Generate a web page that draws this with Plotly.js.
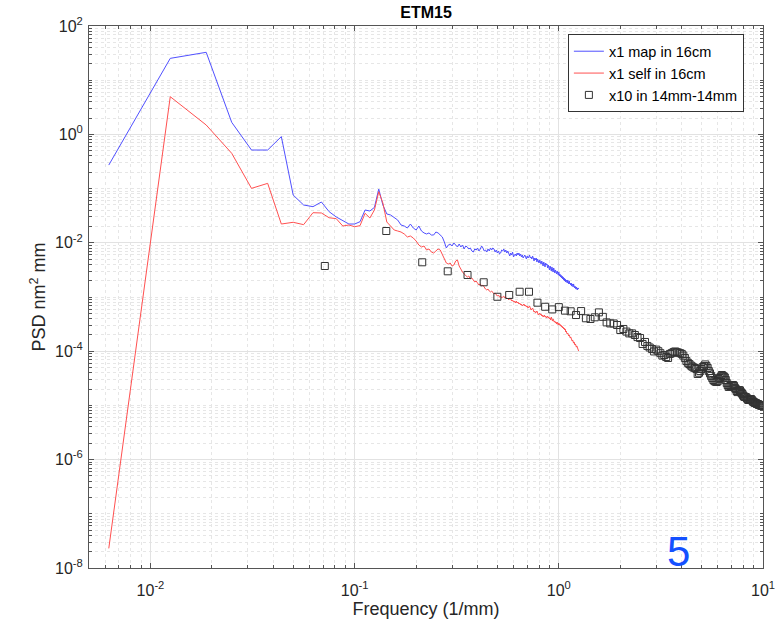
<!DOCTYPE html>
<html>
<head>
<meta charset="utf-8">
<script src="https://cdn.plot.ly/plotly-3.0.1.min.js"></script>
<style>
html,body{margin:0;padding:0;background:#fff;}
#chart{width:784px;height:624px;}
</style>
</head>
<body>
<div id="chart"></div>
<script>
// Sample spacing of the two 16cm spectra (1/160 mm) and of the 14mm spectrum (1/14 mm)
const dfMap = 1 / 160;
const dfSmall = 1 / 14;

// "x1 map in 16cm" PSD values (nm^2 mm), one per frequency bin k*dfMap, k=1..200
const mapPSD = [
0.272, 25.3, 32.7, 1.67, 0.515, 0.515, 0.91, 0.076, 0.0498, 0.0464,
0.0566, 0.0375, 0.030, 0.0252, 0.0222, 0.0222, 0.0245, 0.0403, 0.0386, 0.045,
0.098, 0.0498, 0.0340, 0.0326, 0.0287, 0.0263, 0.0213, 0.0204, 0.01875, 0.0222,
0.01875, 0.0172, 0.0204, 0.0165, 0.0152, 0.01454, 0.0152, 0.01393, 0.01393, 0.0158,
0.0152, 0.01393, 0.0128, 0.01035, 0.00802, 0.0091, 0.0095, 0.00873, 0.00992, 0.0091,
0.00837, 0.0095, 0.00837, 0.0091, 0.00769, 0.00873, 0.00837, 0.00769, 0.00802, 0.00706,
0.00676, 0.00769, 0.00736, 0.00802, 0.00706, 0.00769, 0.00873, 0.00802, 0.00706, 0.00736,
0.00676, 0.00769, 0.00706, 0.00802, 0.00736, 0.00802, 0.00769, 0.00676, 0.00736, 0.00648,
0.00706, 0.00621, 0.00648, 0.00736, 0.00706, 0.00769, 0.00676, 0.00736, 0.00648, 0.00706,
0.00621, 0.00571, 0.00648, 0.00595, 0.00676, 0.00547, 0.00595, 0.00621, 0.00571, 0.00648,
0.00595, 0.00648, 0.00571, 0.00621, 0.00547, 0.00595, 0.00524, 0.00571, 0.00595, 0.00547,
0.00502, 0.00571, 0.00524, 0.00547, 0.00595, 0.00524, 0.00547, 0.00502, 0.00571, 0.00524,
0.00461, 0.00524, 0.00482, 0.00524, 0.00442, 0.00502, 0.00461, 0.00424, 0.00482, 0.00442,
0.00406, 0.00461, 0.00424, 0.00373, 0.00442, 0.00406, 0.00358, 0.00424, 0.00389, 0.00406,
0.00343, 0.00389, 0.00358, 0.00315, 0.00373, 0.00343, 0.00302, 0.00358, 0.00329, 0.00289,
0.00343, 0.00302, 0.00277, 0.00315, 0.00289, 0.00266, 0.00302, 0.00277, 0.00254, 0.00289,
0.00244, 0.00266, 0.00234, 0.00254, 0.00224, 0.00244, 0.00215, 0.00234, 0.00206, 0.00224,
0.00197, 0.00215, 0.00189, 0.00206, 0.00197, 0.00181, 0.00206, 0.00189, 0.00174, 0.00197,
0.00174, 0.00181, 0.00166, 0.00181, 0.00159, 0.00174, 0.00166, 0.00153, 0.00174, 0.00159,
0.00147, 0.00159, 0.00153, 0.00140, 0.00153, 0.00147, 0.00135, 0.00147, 0.00140, 0.00147
];

// "x1 self in 16cm" PSD values, same bins
const selfPSD = [
2.3e-8, 4.96, 1.49, 0.448, 0.101, 0.125, 0.0222, 0.0239, 0.0216, 0.0359,
0.0355, 0.029, 0.0279, 0.0204, 0.0213, 0.0198, 0.0207, 0.035, 0.0287, 0.0403,
0.0877, 0.0542, 0.0242, 0.0204, 0.0172, 0.0165, 0.0158, 0.01454, 0.0128, 0.01335,
0.01226, 0.01079, 0.0091, 0.00837, 0.00873, 0.00736, 0.00769, 0.00676, 0.00648, 0.00706,
0.00769, 0.00736, 0.00595, 0.00502, 0.00424, 0.00406, 0.00424, 0.00373, 0.00389, 0.00461,
0.00482, 0.00373, 0.00315, 0.00289, 0.00266, 0.00254, 0.00234, 0.00244, 0.00215, 0.00224,
0.00206, 0.00189, 0.00197, 0.00181, 0.00166, 0.00174, 0.00159, 0.00166, 0.00147, 0.00140,
0.00135, 0.00140, 0.00129, 0.00124, 0.00129, 0.00118, 0.00114, 0.00118, 0.00109, 0.00104,
0.00109, 0.000999, 0.00104, 0.000958, 0.000999, 0.00104, 0.000958, 0.000999, 0.000918, 0.000958,
0.00088, 0.000958, 0.000918, 0.000843, 0.00088, 0.000808, 0.000843, 0.000774, 0.000843, 0.000774,
0.000808, 0.000742, 0.000774, 0.000711, 0.000742, 0.000682, 0.000711, 0.000742, 0.000682, 0.000711,
0.000653, 0.000682, 0.000626, 0.000653, 0.000682, 0.000626, 0.000575, 0.0006, 0.000626, 0.000575,
0.000528, 0.000551, 0.000506, 0.000528, 0.000551, 0.000506, 0.000465, 0.000485, 0.000506, 0.000465,
0.000485, 0.000446, 0.000465, 0.000427, 0.000446, 0.000465, 0.000427, 0.000446, 0.000409, 0.000427,
0.000446, 0.000409, 0.000427, 0.000392, 0.000409, 0.000376, 0.000427, 0.000392, 0.00036, 0.000392,
0.000376, 0.000345, 0.00036, 0.000331, 0.000345, 0.000317, 0.000345, 0.000331, 0.000304, 0.000331,
0.000304, 0.000317, 0.000291, 0.000304, 0.000279, 0.000291, 0.000268, 0.000279, 0.000257, 0.000268,
0.000246, 0.000257, 0.000226, 0.000236, 0.000216, 0.000207, 0.000216, 0.000199, 0.000191, 0.000199,
0.000183, 0.000175, 0.000183, 0.000168, 0.000161, 0.000154, 0.000161, 0.000148, 0.000141, 0.000148,
0.000136, 0.00013, 0.000136, 0.000125, 0.000119, 0.000125, 0.000114, 0.00011, 0.000105, 0.000101
];

// "x10 in 14mm-14mm" PSD values, one per bin k*dfSmall, k=1..140
const smallPSD = [
3.73e-3, 1.65e-2, 4.37e-3, 2.98e-3, 2.55e-3, 1.87e-3, 1.01e-3, 1.09e-3, 1.25e-3, 1.25e-3,
7.85e-4, 6.6e-4, 5.9e-4, 6.5e-4, 5.6e-4, 5.45e-4, 4.65e-4, 5.5e-4, 4.05e-4, 3.93e-4,
4.22e-4, 5.2e-4, 4.3e-4, 3.4e-4, 3.25e-4, 3.25e-4, 3.04e-4, 2.46e-4, 2.57e-4, 2.3e-4,
2.13e-4, 2.13e-4, 1.99e-4, 1.82e-4, 1.75e-4, 1.36e-4, 1.48e-4, 1.25e-4, 1.17e-4, 1.10e-4,
9.9e-5, 1.07e-4, 1.0e-4, 9.2e-5, 8.3e-5, 8.5e-5, 7.8e-5, 7.5e-5, 8.9e-5, 9.2e-5,
9.6e-5, 9.9e-5, 9.6e-5, 9.4e-5, 9.2e-5, 8.9e-5, 8.3e-5, 7.5e-5, 6.6e-5, 6.1e-5,
5.8e-5, 5.45e-5, 5.2e-5, 5.0e-5, 4.9e-5, 4.7e-5, 3.8e-5, 4.0e-5, 4.3e-5, 4.7e-5,
5.1e-5, 5.3e-5, 5.7e-5, 5.3e-5, 4.9e-5, 4.3e-5, 3.9e-5, 3.5e-5, 3.2e-5, 2.94e-5,
2.8e-5, 2.75e-5, 2.7e-5, 2.8e-5, 3.05e-5, 3.2e-5, 3.4e-5, 3.64e-5, 3.5e-5, 3.4e-5,
3.27e-5, 2.94e-5, 2.6e-5, 2.38e-5, 2.2e-5, 2.2e-5, 2.28e-5, 2.28e-5, 2.38e-5, 2.38e-5,
2.28e-5, 2.1e-5, 2.0e-5, 1.84e-5, 1.76e-5, 1.84e-5, 1.92e-5, 1.88e-5, 1.76e-5, 1.69e-5,
1.62e-5, 1.52e-5, 1.46e-5, 1.43e-5, 1.43e-5, 1.40e-5, 1.34e-5, 1.28e-5, 1.26e-5, 1.28e-5,
1.28e-5, 1.31e-5, 1.28e-5, 1.23e-5, 1.18e-5, 1.15e-5, 1.13e-5, 1.11e-5, 1.11e-5, 1.08e-5,
1.06e-5, 1.06e-5, 1.04e-5, 1.02e-5, 1.02e-5, 1.0e-5, 1.0e-5, 9.8e-6, 9.8e-6, 9.8e-6
];

const seriesNames = ['x1 map in 16cm', 'x1 self in 16cm', 'x10 in 14mm-14mm'];
const xTickVals = [0.01, 0.1, 1, 10];
const xTickText = ['10<sup>-2</sup>', '10<sup>-1</sup>', '10<sup>0</sup>', '10<sup>1</sup>'];
const yTickVals = [1e-8, 1e-6, 1e-4, 1e-2, 1, 100];
const yTickText = ['10<sup>-8</sup>', '10<sup>-6</sup>', '10<sup>-4</sup>', '10<sup>-2</sup>', '10<sup>0</sup>', '10<sup>2</sup>'];

// frequency grids from the sample spacing
const fMap = mapPSD.map((_, i) => (i + 1) * dfMap);
const fSmall = smallPSD.map((_, i) => (i + 1) * dfSmall);

// minor grid positions (log axes)
function minorLog(lo, hi, skip) {
  const out = [];
  for (let e = lo; e <= hi; e++) {
    for (let m = 1; m <= 9; m++) {
      const v = m * Math.pow(10, e);
      if (m === 1 && skip.includes(e)) continue;
      out.push(v);
    }
  }
  return out;
}
const xMinor = minorLog(-3, 0, [-2, -1, 0]).filter(v => v > 0.005);
const yMinor = minorLog(-8, 1, [-8, -6, -4, -2, 0]);

const FONT = '"Liberation Sans", Arial, Helvetica, sans-serif';

const traces = [
  { x: fMap, y: mapPSD, name: seriesNames[0], type: 'scatter', mode: 'lines',
    line: { color: 'rgb(80,80,255)', width: 1 } },
  { x: fMap, y: selfPSD, name: seriesNames[1], type: 'scatter', mode: 'lines',
    line: { color: 'rgb(255,80,80)', width: 1 } },
  { x: fSmall, y: smallPSD, name: seriesNames[2], type: 'scatter', mode: 'markers',
    marker: { symbol: 'square-open', size: 7, color: '#333', line: { width: 1, color: '#333' } } }
];

const axisCommon = {
  type: 'log',
  showline: true, linecolor: '#555', linewidth: 1, mirror: 'allticks',
  ticks: 'inside', ticklen: 5, tickcolor: '#555', tickwidth: 1,
  showgrid: true, gridcolor: '#e2e2e2', gridwidth: 1,
  zeroline: false,
  tickfont: { family: FONT, size: 16, color: '#262626' }
};

const layout = {
  width: 784, height: 624,
  paper_bgcolor: '#fff', plot_bgcolor: '#fff',
  margin: { l: 88.5, r: 20.7, t: 26, b: 56.3 },
  font: { family: FONT, color: '#262626' },
  title: { text: '<b>ETM15</b>', font: { family: FONT, size: 16, color: '#000' },
           x: 0.5, xref: 'paper', xanchor: 'center', y: 1 - 12 / 624, yref: 'container', yanchor: 'middle' },
  xaxis: Object.assign({}, axisCommon, {
    range: [Math.log10(0.005), 1],
    tickmode: 'array', tickvals: xTickVals, ticktext: xTickText,
    ticklabelstandoff: 8,
    title: { text: 'Frequency (1/mm)', font: { family: FONT, size: 18, color: '#262626' }, standoff: 2 },
    minor: { tickmode: 'array', tickvals: xMinor, ticks: 'inside', ticklen: 3, tickcolor: '#555',
             showgrid: true, griddash: 'dot', gridcolor: '#e6e6e6', gridwidth: 1 }
  }),
  yaxis: Object.assign({}, axisCommon, {
    range: [-8, 2],
    tickmode: 'array', tickvals: yTickVals, ticktext: yTickText,
    ticklabelstandoff: 2,
    title: { text: 'PSD nm<sup>2</sup> mm', font: { family: FONT, size: 18, color: '#262626' }, standoff: 4 },
    minor: { tickmode: 'array', tickvals: yMinor, ticks: 'inside', ticklen: 3, tickcolor: '#555',
             showgrid: true, griddash: 'dot', gridcolor: '#e6e6e6', gridwidth: 1 }
  }),
  legend: {
    x: 0.7105, y: 0.9847, xanchor: 'left', yanchor: 'top',
    bgcolor: '#fff', bordercolor: '#333', borderwidth: 1,
    font: { family: FONT, size: 14.5, color: '#000' },
    tracegroupgap: 0, itemwidth: 30
  },
  showlegend: true,
  annotations: [
    { text: '5', xref: 'paper', yref: 'paper', x: 0.874, y: 0.03, xanchor: 'center', yanchor: 'middle',
      showarrow: false, font: { family: FONT, size: 42, color: '#1450ff' } }
  ]
};

Plotly.newPlot('chart', traces, layout, { displayModeBar: false, staticPlot: true });
</script>
</body>
</html>
